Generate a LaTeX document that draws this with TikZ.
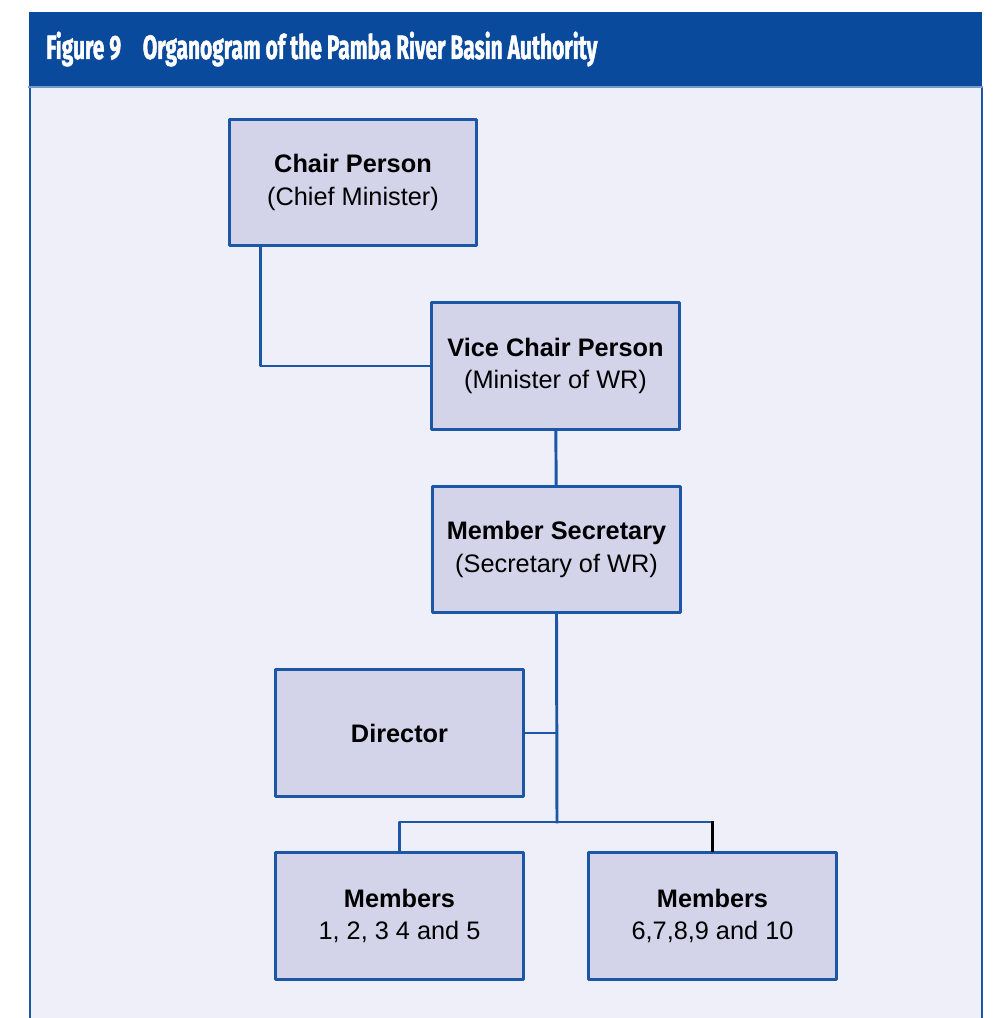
\documentclass[tikz,border=0pt]{standalone}
\usepackage{fontspec}
\setmainfont{Liberation Sans}
\newfontfamily\headfont[FakeStretch=0.62, FakeBold=1.2]{Fira Sans}
\definecolor{headblue}{HTML}{0A4A9C}
\definecolor{lineblue}{HTML}{1B57A6}
\definecolor{panelbg}{HTML}{EEEFF8}
\definecolor{boxfill}{HTML}{D3D3EA}
\tikzset{
  orgbox/.style={draw=lineblue, fill=boxfill, line width=2.1pt, minimum width=6.18cm,
    minimum height=3.17cm, align=center, font=\fontsize{18}{23}\selectfont},
  orgline/.style={draw=lineblue, line width=2.1pt}
}
\begin{document}
\begin{tikzpicture}[x=0.025cm, y=-0.025cm, line join=round, line cap=rect]
	\useasboundingbox (0,0) rectangle (992,1018);
	% panel and header
	\fill[panelbg] (30,87) rectangle (982,1018);
	\draw[orgline] (30,87)--(30,1018) (982,87)--(982,1018);
	\fill[headblue] (29,12) rectangle (982,87);
	\draw[lineblue!60, line width=1pt] (29,87)--(982,87);
	\node[anchor=base west, text=white, inner sep=0pt, font=\headfont\bfseries\fontsize{24}{28}\selectfont]
		(title) at (46,59) {Figure 9\hspace{0.5em} Organogram of the Pamba River Basin Authority};
	% boxes
	\node[orgbox] (chair) at (353,182.5) {\textbf{Chair Person}\\(Chief Minister)};
	\node[orgbox] (vice) at (555.5,366) {\textbf{Vice Chair Person}\\(Minister of WR)};
	\node[orgbox] (sec) at (556.5,549.5) {\textbf{Member Secretary}\\(Secretary of WR)};
	\node[orgbox] (dir) at (399.5,733) {\textbf{Director}};
	\node[orgbox] (memA) at (399.5,916) {\textbf{Members}\\1, 2, 3 4 and 5};
	\node[orgbox] (memB) at (712.5,916) {\textbf{Members}\\6,7,8,9 and 10};
	\coordinate (fork) at (557,822);
	% connectors
	\draw[orgline] ([xshift=0.825cm]chair.south west) |- (vice);
	\draw[orgline] (vice) -- (sec);
	\draw[orgline] (sec.south) -- (fork);
	\draw[orgline] (dir.east) -- (dir.east -| fork);
	\draw[orgline] (memA.north) |- (fork) -- (fork -| memB.north);
	\draw[black, line width=1.5pt] (fork -| memB.north) -- (memB.north);
\end{tikzpicture}
\end{document}
